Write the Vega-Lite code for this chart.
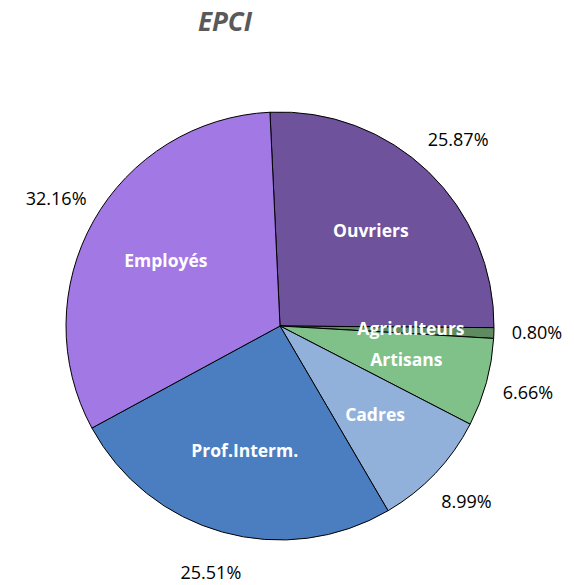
{
  "$schema": "https://vega.github.io/schema/vega-lite/v6.json",
  "autosize": "none",
  "width": 560,
  "height": 518,
  "padding": {"left": 0, "top": 67, "right": 14, "bottom": 0},
  "background": "white",
  "config": {"view": {"stroke": null}},
  "title": {
    "text": "EPCI",
    "font": "Open Sans",
    "fontSize": 26,
    "fontWeight": "bold",
    "fontStyle": "italic",
    "color": "#595959",
    "anchor": "middle",
    "dx": -55,
    "offset": 31
  },
  "data": {
    "values": [
      {"categorie": "Ouvriers", "part": 0.2587, "rang": 1},
      {"categorie": "Agriculteurs", "part": 0.0080, "rang": 2},
      {"categorie": "Artisans", "part": 0.0666, "rang": 3},
      {"categorie": "Cadres", "part": 0.0899, "rang": 4},
      {"categorie": "Prof.Interm.", "part": 0.2551, "rang": 5},
      {"categorie": "Employés", "part": 0.3216, "rang": 6}
    ]
  },
  "encoding": {
    "theta": {"field": "part", "type": "quantitative", "stack": true, "scale": {"range": [-0.047, 6.2362]}},
    "order": {"field": "rang", "type": "ordinal", "sort": "ascending"}
  },
  "layer": [
    {
      "mark": {"type": "arc", "outerRadius": 214, "stroke": "black", "strokeWidth": 1},
      "encoding": {
        "color": {
          "field": "categorie",
          "type": "nominal",
          "legend": null,
          "scale": {
            "domain": ["Ouvriers", "Agriculteurs", "Artisans", "Cadres", "Prof.Interm.", "Employés"],
            "range": ["#6E529B", "#5E8C60", "#80C089", "#91B1DA", "#4A7EC0", "#A278E4"]
          }
        }
      }
    },
    {
      "mark": {"type": "text", "radius": 131, "font": "Open Sans", "fontSize": 17.5, "fontWeight": "bold", "fill": "white"},
      "encoding": {"text": {"field": "categorie", "type": "nominal"}}
    },
    {
      "mark": {"type": "text", "radius": 257, "font": "Open Sans", "fontSize": 18, "fill": "black"},
      "encoding": {"text": {"field": "part", "type": "quantitative", "format": ".2%"}}
    }
  ]
}
